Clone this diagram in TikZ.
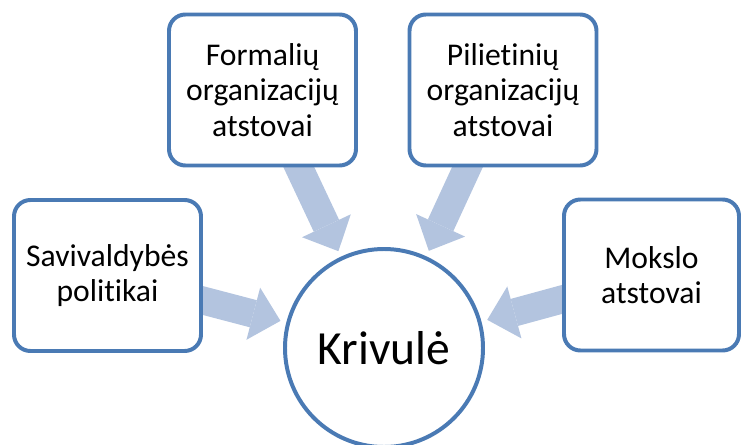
\documentclass[tikz,border=0pt]{standalone}
\usepackage{fontspec}
\setmainfont{Carlito}[Ligatures=NoCommon]
\usetikzlibrary{arrows.meta,calc}

\definecolor{rimblue}{HTML}{4A7AB4}
\definecolor{arrowblue}{HTML}{B3C4DF}

\begin{document}
\begin{tikzpicture}[
        x=0.03cm, y=-0.03cm,
        box/.style={draw=rimblue, line width=3.4pt, rounded corners=14pt, fill=white,
            align=center, inner sep=0pt, minimum width=5.61cm, minimum height=4.53cm,
            font=\fontsize{27}{30}\selectfont},
        hub/.style={draw=rimblue, line width=3.4pt, circle, fill=white, inner sep=0pt,
            minimum size=5.94cm, font=\fontsize{40.6}{44}\selectfont},
        feed/.style={draw=arrowblue, line width=23.9pt,
            -{Triangle[width=46pt,length=24pt,line width=0pt]}}
    ]

        % --- Rahmen ---
        \useasboundingbox (0,0) rectangle (743,445);

        % --- Mitte ---
        \coordinate (hubc) at (384,348);

        % --- Kaesten ---
        \coordinate (savc) at (107.5,275.5);
        \coordinate (forc) at (262.5,90);
        \coordinate (pilc) at (503,90);
        \coordinate (mokc) at (651.5,275);

        % --- Pfeile (unter den Kaesten) ---
        \foreach \src in {savc,forc,pilc,mokc} {
            \coordinate (tip-\src) at ($(hubc)!3.21cm!(\src)$);
            \draw[feed] (\src) -- (tip-\src);
        }

        % --- Knoten ---
        \node[box] (sav) at (savc) {Savivaldybės\\politikai};
        \node[box] (for) at (forc) {Formalių\\organizacijų\\atstovai};
        \node[box] (pil) at (pilc) {Pilietinių\\organizacijų\\atstovai};
        \node[box, minimum width=5.25cm] (mok) at (mokc) {Mokslo\\atstovai};
        \node[hub] (krv) at (hubc) {Krivulė};

\end{tikzpicture}
\end{document}
